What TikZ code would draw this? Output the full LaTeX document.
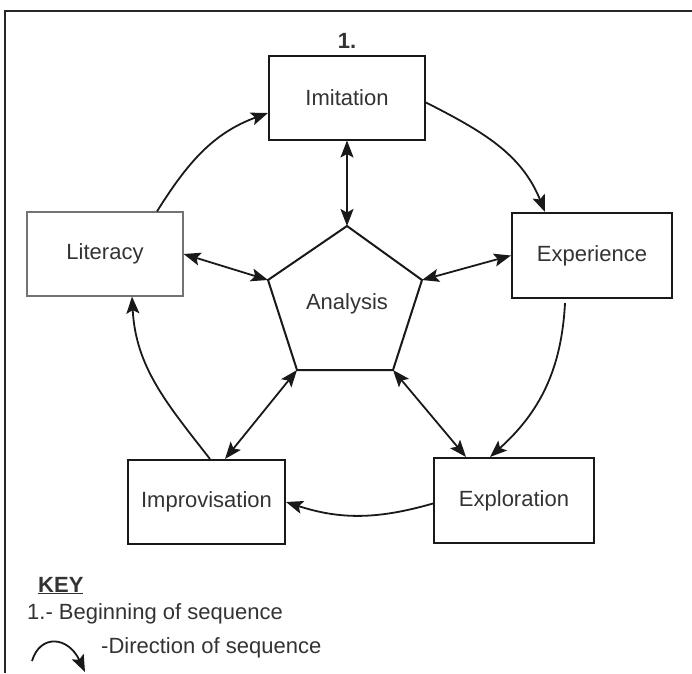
\documentclass[tikz,border=0pt]{standalone}
\usepackage{fontspec}
\setmainfont{Liberation Sans}
\usetikzlibrary{arrows.meta,calc}
\begin{document}
\begin{tikzpicture}[x=1pt,y=-1pt,
  box/.style={draw=black!90,line width=2pt,minimum width=#1,minimum height=84pt,inner sep=0pt,font=\fontsize{22}{26}\selectfont,text=black!80},
  thinbox/.style={box=#1,draw=black!55,line width=1.2pt},
  tip/.tip={Stealth[length=17pt,width=13pt,inset=3.5pt]},
  seq/.style={line width=1.8pt,draw=black!90,-tip},
  dbl/.style={line width=1.8pt,draw=black!90,tip-tip},
  lbl/.style={inner sep=0pt,font=\fontsize{22}{26}\selectfont,text=black!80}]
\useasboundingbox (0,0) rectangle (692,673);
% frame
\draw[line width=2pt,black!85] (5,673) -- (5,11) -- (692,11);

% boxes
\node[box=156pt] (imi) at (347,97.5) {Imitation};
\node[box=160pt,minimum height=85pt] (exp) at (592,255.5) {Experience};
\node[thinbox=156pt] (lit) at (105,254) {Literacy};
\node[box=160pt,minimum height=85pt] (expl) at (514,500.5) {Exploration};
\node[box=157pt] (imp) at (206.5,502) {Improvisation};
\node[lbl,font=\fontsize{22}{26}\selectfont\bfseries] (one) at (347,41) {1.};

% pentagon
\coordinate (pT) at (347,226);
\coordinate (pUL) at (268,280);
\coordinate (pUR) at (422,280);
\coordinate (pLL) at (297,370);
\coordinate (pLR) at (393,370);
\draw[line width=2pt,black!90,line join=miter] (pT) -- (pUR) -- (pLR) -- (pLL) -- (pUL) -- cycle;
\node[lbl] (ana) at (347,304) {Analysis};

% double arrows
\draw[dbl] (imi.south) -- (pT);
\draw[dbl] (lit.east) -- (pUL);
\draw[dbl] (exp.west) -- (pUR);
\draw[dbl] (pLL) -- ([xshift=18.5pt]imp.north);
\draw[dbl] (pLR) -- ([xshift=-48pt]expl.north);

% sequence arrows
\draw[seq] ([yshift=-5pt]imi.east) to[out=-27,in=112] ([xshift=-47pt]exp.north);
\draw[seq] ([xshift=-27pt,yshift=-4pt]exp.south) to[out=-93,in=42] ([xshift=-24pt]expl.north);
\draw[seq] ([yshift=-3pt]expl.west) to[out=196,in=-18] (imp.east);
\draw[seq] ([xshift=3.5pt]imp.north) to[out=128,in=-87] ([xshift=27pt]lit.south);
\draw[seq] ([xshift=52pt]lit.north) to[out=58,in=200] ([yshift=-15.5pt]imi.west);

% key
\node[lbl,anchor=base west,font=\fontsize{22}{26}\selectfont\bfseries] (key) at (38,592) {\underline{KEY}};
\node[lbl,anchor=base west] (k1) at (27,619) {1.- Beginning of sequence};
\node[lbl,anchor=base west] (k2) at (101,653) {-Direction of sequence};
\coordinate (ka) at (32,661);
\coordinate (kb) at (85,672);
\draw[seq] (ka) .. controls (40,634) and (68,636) .. (kb);
\end{tikzpicture}
\end{document}
